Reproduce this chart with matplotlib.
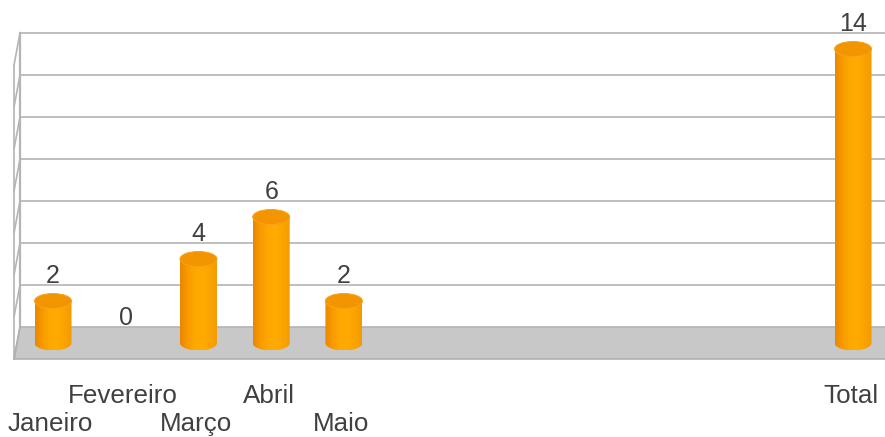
import numpy as np
import matplotlib
matplotlib.use("Agg")
import matplotlib.pyplot as plt
from matplotlib.path import Path
from matplotlib.patches import PathPatch, Ellipse, Polygon
from matplotlib.colors import LinearSegmentedColormap

categories = ["Janeiro", "Fevereiro", "Março", "Abril", "Maio",
              "", "", "", "", "", "", "Total"]
values = [2, 0, 4, 6, 2, None, None, None, None, None, None, 14]
grid_values = [0, 2, 4, 6, 8, 10, 12, 14]

W, H = 885, 437
fig = plt.figure(figsize=(W / 100, H / 100), dpi=100)
ax = fig.add_axes([0, 0, 1, 1])
ax.axis("off")

# pixel geometry helpers (layout only)
X0, SX = 53.0, 72.73     # px of slot 0, px per slot
Y0, SY = 343.0, 21.0     # px of value 0 (mid depth), px per unit
def px2x(px): return (px - X0) / SX
def px2y(py): return (Y0 - py) / SY
XLIM = (px2x(0), px2x(W))
YLIM = (px2y(H), px2y(0))

DEPTH = 16 / SY           # half depth in value units
BACK_X, FRONT_X = px2x(20), px2x(14)
RIGHT_X = px2x(W + 2)

grid_col = "#b4b4b4"
# floor
floor = Polygon([(BACK_X, DEPTH), (RIGHT_X, DEPTH),
                 (RIGHT_X, -DEPTH), (FRONT_X, -DEPTH)],
                closed=True, facecolor="#c8c8c8", edgecolor="none", zorder=1)
ax.add_patch(floor)
ax.plot([FRONT_X, RIGHT_X], [-DEPTH, -DEPTH], color="#b0b0b0", lw=1.2, zorder=1.5)
ax.plot([BACK_X, FRONT_X], [DEPTH, -DEPTH], color="#b0b0b0", lw=1.2, zorder=1.5)

# back wall gridlines and side wall
top_v = grid_values[-1]
for gv in grid_values:
    ax.plot([BACK_X, RIGHT_X], [gv + DEPTH, gv + DEPTH], color=grid_col, lw=1.2, zorder=1.2)
    ax.plot([BACK_X, FRONT_X], [gv + DEPTH, gv - DEPTH], color=grid_col, lw=1.2, zorder=1.2)
ax.plot([BACK_X, BACK_X], [DEPTH, top_v + DEPTH], color=grid_col, lw=1.6, zorder=1.2)
ax.plot([FRONT_X, FRONT_X], [-DEPTH, top_v - DEPTH], color=grid_col, lw=1.2, zorder=1.2)

# cylinders
bw = 37 / SX
eh = 15 / SY
cmap = LinearSegmentedColormap.from_list(
    "cyl", ["#ea8600", "#f89b00", "#ffa800", "#ffab00", "#fba400", "#f29a00"])
grad = np.linspace(0, 1, 256).reshape(1, -1)
text_col = "#404040"
font = "Liberation Sans"

for i, v in enumerate(values):
    if v is None:
        continue
    if v > 0:
        xl, xr = i - bw / 2, i + bw / 2
        theta = np.linspace(np.pi, 2 * np.pi, 60)
        bx = i + (bw / 2) * np.cos(theta)
        by = 0 + (eh / 2) * np.sin(theta)
        verts = [(xl, v)] + list(zip(bx, by)) + [(xr, v), (xl, v)]
        codes = [Path.MOVETO] + [Path.LINETO] * (len(verts) - 2) + [Path.CLOSEPOLY]
        body = PathPatch(Path(verts, codes), facecolor="none", edgecolor="none")
        ax.add_patch(body)
        im = ax.imshow(grad, extent=[xl, xr, -eh / 2, v], aspect="auto",
                       cmap=cmap, zorder=3, interpolation="bilinear")
        im.set_clip_path(body)
        top = Ellipse((i, v), bw, eh, facecolor="#f29500",
                      edgecolor="#f7a318", lw=0.7, zorder=4)
        ax.add_patch(top)
    ax.text(i, v + 1.17, f"{v}", ha="center", va="center",
            fontsize=18, color=text_col, family=font, zorder=5)

for i, c in enumerate(categories):
    if not c:
        continue
    ypx = 403 if i % 2 == 1 else 431
    ax.text(i - 0.035, px2y(ypx), c, ha="center", va="baseline",
            fontsize=18.7, color=text_col, family=font, zorder=5)

ax.set_xlim(*XLIM)
ax.set_ylim(*YLIM)
fig.savefig("out.png", dpi=100, facecolor="white")
